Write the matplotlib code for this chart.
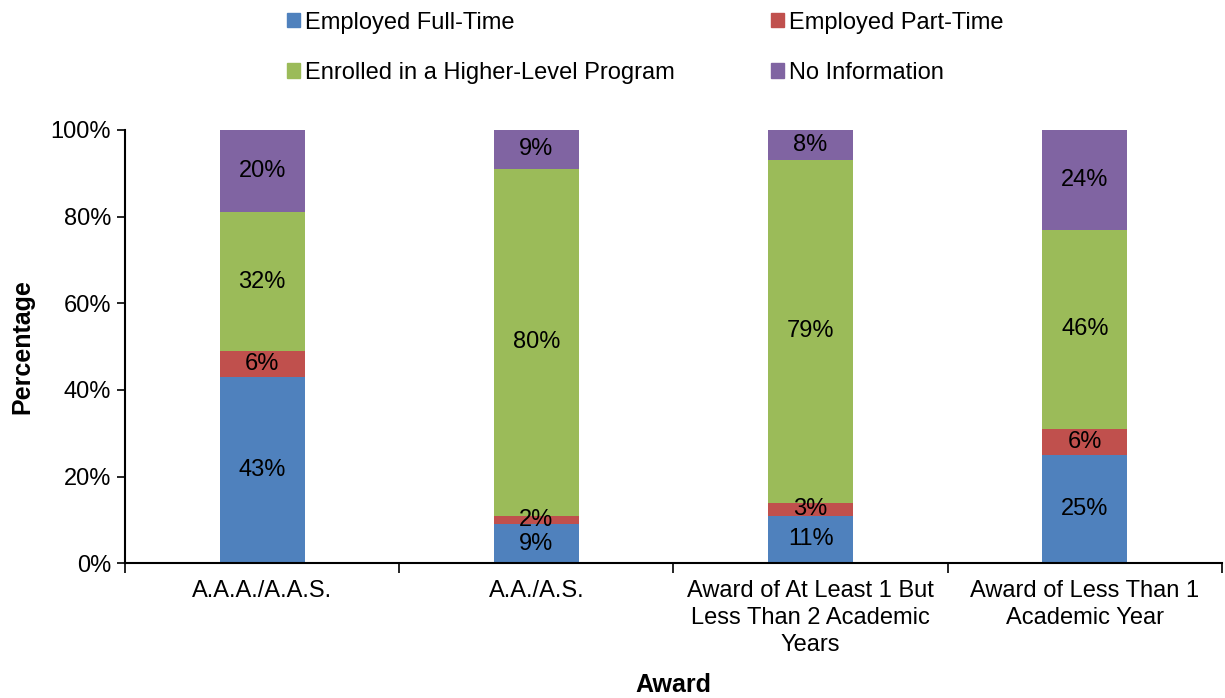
import matplotlib.pyplot as plt
from matplotlib.patches import Patch
import numpy as np

plt.rcParams['font.family'] = ['Liberation Sans', 'DejaVu Sans']

categories = ["A.A.A./A.A.S.", "A.A./A.S.",
              "Award of At Least 1 But\nLess Than 2 Academic\nYears",
              "Award of Less Than 1\nAcademic Year"]
series_names = ["Employed Full-Time", "Employed Part-Time",
                "Enrolled in a Higher-Level Program", "No Information"]
full_time = [43, 9, 11, 25]
part_time = [6, 2, 3, 6]
enrolled = [32, 80, 79, 46]
no_info = [20, 9, 8, 24]
colors = ["#4f81bd", "#c0504d", "#9bbb59", "#8064a2"]

fig = plt.figure(figsize=(12.25, 6.98), dpi=100)
ax = fig.add_axes([0.102, 0.193, 0.8955, 0.621])

x = np.arange(len(categories))
bottom = np.zeros(len(categories))
for vals, col in zip([full_time, part_time, enrolled, no_info], colors):
    vals = np.array(vals, dtype=float)
    # stack is clipped at 100% like the original
    top = np.minimum(bottom + vals, 100)
    h = top - bottom
    ax.bar(x, h, 0.31, bottom=bottom, color=col, edgecolor='none')
    for xi, b, hh, v in zip(x, bottom, h, vals):
        ax.text(xi, b + hh / 2, f"{int(v)}%", ha='center', va='center', fontsize=17)
    bottom = top

ax.set_xlim(-0.5, 3.5)
ax.set_ylim(0, 100)
ax.set_yticks(range(0, 101, 20))
ax.set_yticklabels([f"{t}%" for t in range(0, 101, 20)], fontsize=17)
ax.set_xticks(x)
ax.set_xticklabels(categories, fontsize=17, linespacing=1.3)
ax.tick_params(axis='x', which='major', length=0, pad=12)
ax.set_xticks(np.arange(-0.5, 4, 1), minor=True)
ax.tick_params(axis='x', which='minor', length=7, width=1.2, direction='out')
ax.tick_params(axis='y', length=6, width=1.2, direction='out', pad=4)
for s in ['top', 'right']:
    ax.spines[s].set_visible(False)
ax.spines['left'].set_linewidth(1.5)
ax.spines['bottom'].set_linewidth(1.5)

ax.set_ylabel("Percentage", fontsize=18, fontweight='bold', labelpad=12)
ax.set_xlabel("Award", fontsize=18, fontweight='bold', labelpad=12)

# column-major fill so rows read FT/PT then Enrolled/No info
order = [0, 2, 1, 3]
handles = [Patch(color=colors[i]) for i in order]
labels = [series_names[i] for i in order]
fig.legend(handles, labels, loc='upper left', bbox_to_anchor=(0.2265, 0.997),
           ncol=2, frameon=False, fontsize=17, handlelength=0.55, handleheight=0.55,
           handletextpad=0.2, columnspacing=4.1, labelspacing=1.2, borderaxespad=0.0)

fig.savefig("out.png", dpi=100)
